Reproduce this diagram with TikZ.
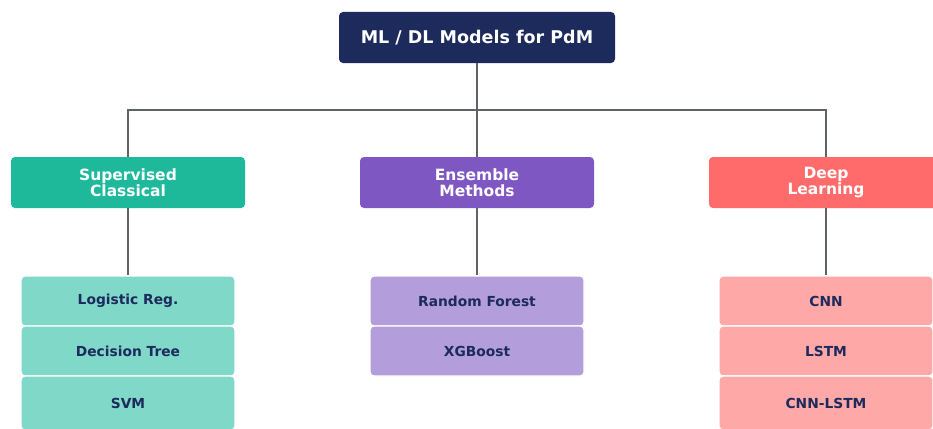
\documentclass[tikz,border=0pt]{standalone}
\usepackage{fontspec}
\setmainfont{DejaVu Sans}
\definecolor{navy}{HTML}{1C2A5C}
\definecolor{teal}{HTML}{1DB99A}
\definecolor{teallight}{HTML}{80D8C8}
\definecolor{purp}{HTML}{7E57C2}
\definecolor{purplight}{HTML}{B39DDB}
\definecolor{coral}{HTML}{FF6B6B}
\definecolor{corallight}{HTML}{FFA8A8}
\definecolor{wire}{HTML}{5F6368}
\begin{document}
\begin{tikzpicture}[x=1pt,y=-1pt,
  rootbox/.style={fill=navy, text=white, rounded corners=4pt, minimum width=276pt,
    minimum height=51pt, inner sep=0pt, font=\fontsize{17.5}{20}\selectfont\bfseries},
  catbox/.style={fill=#1, text=white, rounded corners=4pt, minimum width=234pt,
    minimum height=51pt, inner sep=0pt, align=center,
    font=\fontsize{15.5}{16.5}\selectfont\bfseries},
  leafbox/.style={fill=#1, draw=white, line width=1.2pt, text=navy, rounded corners=4pt,
    minimum width=214pt, minimum height=50pt, inner sep=0pt,
    font=\fontsize{13.8}{15}\selectfont\bfseries},
  conn/.style={draw=wire, line width=2pt}]
\useasboundingbox (0,0) rectangle (933,428);
\fill[white] (0,0) rectangle (933,428);

% root and the three families
\node[rootbox] (root) at (477,37.5) {ML / DL Models for PdM};
\node[catbox=teal] (sup) at (128,182.5) {Supervised\\Classical};
\node[catbox=purp] (ens) at (477,182.5) {Ensemble\\Methods};
\node[catbox=coral] (deep) at (826,182.5) {Deep\\Learning};

% model boxes of each family
\node[leafbox=teallight] (lr) at (128,301) {Logistic Reg.};
\node[leafbox=teallight] (dt) at (128,351) {Decision Tree};
\node[leafbox=teallight, minimum height=54pt] (svm) at (128,403) {SVM};
\node[leafbox=purplight] (rf) at (477,301) {Random Forest};
\node[leafbox=purplight] (xgb) at (477,351) {XGBoost};
\node[leafbox=corallight] (cnn) at (826,301) {CNN};
\node[leafbox=corallight] (lstm) at (826,351) {LSTM};
\node[leafbox=corallight, minimum height=54pt] (cl) at (826,403) {CNN-LSTM};

% connectors
\coordinate (hub) at (477,110);
\draw[conn] (root.south) -- (hub);
\draw[conn] (hub) -| (sup.north);
\draw[conn] (hub) -| (deep.north);
\draw[conn] (hub) -- (ens.north);
\draw[conn] (sup.south) -- (lr.north);
\draw[conn] (ens.south) -- (rf.north);
\draw[conn] (deep.south) -- (cnn.north);
\end{tikzpicture}
\end{document}
